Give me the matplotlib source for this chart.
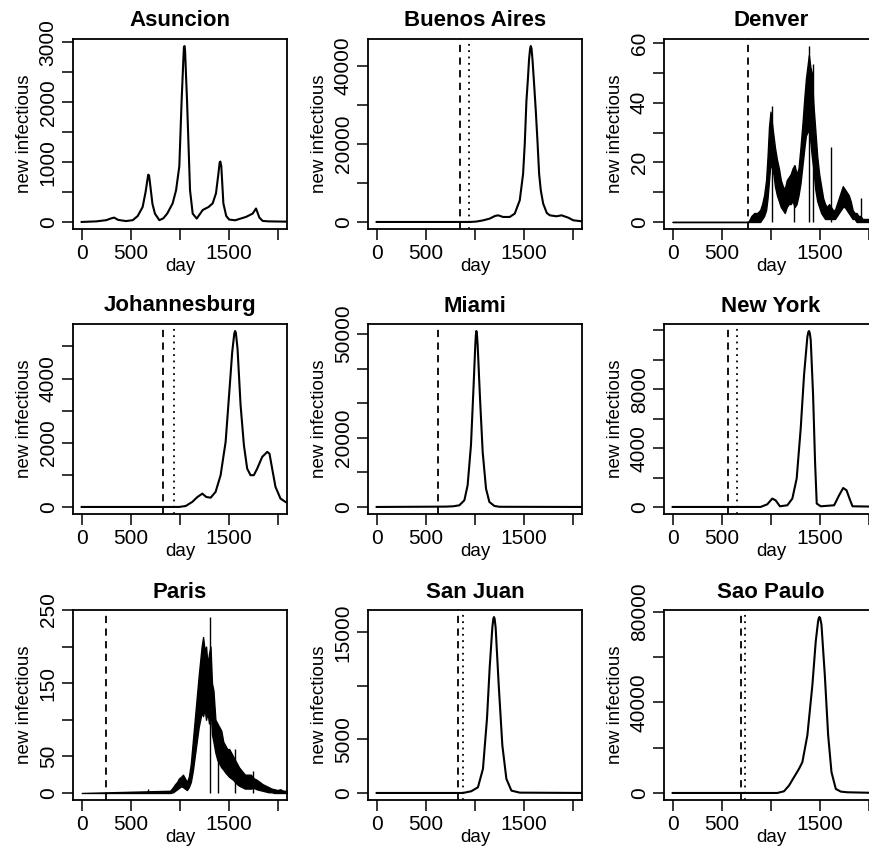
import numpy as np
import matplotlib
matplotlib.use('Agg')
import matplotlib.pyplot as plt

plt.rcParams['font.family'] = ['Liberation Sans', 'DejaVu Sans']

cities = ['Asuncion', 'Buenos Aires', 'Denver',
          'Johannesburg', 'Miami', 'New York',
          'Paris', 'San Juan', 'Sao Paulo']

# smooth epidemic curves (day, new infectious)
asu_day = [0, 150, 250, 300, 330, 370, 450, 520, 570, 620, 650, 670, 677, 685, 695, 720, 745, 790, 830, 870, 925,
           960, 993, 1017, 1035, 1040, 1046, 1052, 1060, 1071, 1102, 1129, 1170, 1231, 1290, 1332, 1366, 1390,
           1403, 1410, 1420, 1441, 1470, 1500, 1560, 1671, 1739, 1773, 1807, 1841, 1900, 2090]
asu_val = [0, 10, 30, 60, 73, 35, 15, 30, 100, 250, 500, 720, 790, 780, 650, 300, 140, 30, 60, 140, 310,
           530, 930, 2050, 2750, 2920, 2940, 2850, 2500, 2050, 530, 140, 56, 200, 250, 310, 480, 800,
           990, 1010, 930, 310, 100, 40, 28, 84, 140, 225, 73, 17, 10, 5]

ba_day = [0, 950, 1013, 1080, 1149, 1200, 1234, 1260, 1285, 1353, 1404, 1455, 1489, 1506, 1523, 1537, 1550,
          1560, 1567, 1575, 1584, 1601, 1618, 1635, 1652, 1669, 1693, 1730, 1761, 1829, 1880, 1948, 1999, 2090]
ba_val = [0, 0, 100, 400, 850, 1500, 1700, 1500, 1280, 1280, 2130, 5530, 12300, 20000, 31000, 36200, 41700,
          44200, 45000, 44300, 41700, 35300, 28500, 20800, 12300, 8100, 4700, 2300, 1700, 1450, 1700, 1100,
          430, 150]

jnb_day = [0, 990, 1058, 1126, 1177, 1227, 1268, 1312, 1362, 1413, 1464, 1504, 1531, 1552, 1560, 1568, 1585,
           1616, 1650, 1683, 1717, 1751, 1785, 1836, 1887, 1910, 1937, 1971, 2022, 2073, 2090]
jnb_val = [0, 0, 30, 160, 310, 415, 310, 290, 470, 990, 2030, 3690, 4830, 5400, 5480, 5430, 4930,
           3170, 1920, 1195, 990, 990, 1195, 1560, 1715, 1660, 1195, 625, 260, 155, 130]

mia_day = [0, 705, 780, 841, 892, 925, 959, 983, 1003, 1009, 1014, 1020, 1027, 1051, 1078, 1112, 1146,
           1197, 1250, 2090]
mia_val = [0, 100, 200, 480, 1930, 6270, 17850, 33300, 46800, 49800, 50850, 49800, 46800, 31400, 15900,
           5300, 1450, 290, 50, 0]

ny_day = [0, 894, 962, 1013, 1047, 1091, 1166, 1217, 1261, 1302, 1336, 1370, 1380, 1387, 1395, 1404, 1428,
          1448, 1465, 1506, 1642, 1693, 1734, 1768, 1805, 1829, 2090]
ny_val = [0, 0, 180, 570, 450, 45, 115, 570, 1930, 5330, 8970, 11580, 11900, 11960, 11800, 11350, 7600,
          3060, 230, 45, 115, 800, 1290, 1135, 450, 45, 20]

sj_day = [0, 877, 962, 1030, 1081, 1122, 1149, 1176, 1186, 1193, 1200, 1210, 1241, 1278, 1319, 1370,
          1455, 2090]
sj_val = [0, 0, 160, 530, 2260, 6960, 11660, 15420, 16250, 16430, 16250, 15420, 10100, 4450, 1320, 220,
          30, 0]

sp_day = [0, 1064, 1132, 1183, 1234, 1285, 1319, 1370, 1421, 1455, 1479, 1487, 1493, 1500, 1513, 1547,
          1581, 1615, 1659, 1710, 1778, 2090]
sp_val = [0, 0, 740, 3260, 6960, 10660, 13600, 25500, 47700, 66900, 75800, 77300, 77600, 77100, 74300,
          52100, 25500, 9180, 1780, 590, 300, 0]

# noisy series: low / high envelope of the daily counts, plus single-day spikes
den_day = [0, 770, 800, 830, 860, 890, 910, 930, 950, 965, 980, 995, 1010, 1025, 1040, 1060, 1080, 1100, 1120,
           1140, 1160, 1180, 1200, 1220, 1240, 1260, 1280, 1300, 1320, 1340, 1355, 1370, 1385, 1400, 1415,
           1430, 1450, 1470, 1490, 1510, 1530, 1550, 1570, 1590, 1610, 1630, 1650, 1670, 1690, 1710, 1730,
           1750, 1770, 1790, 1810, 1830, 1850, 1870, 1890, 1910, 1930, 1950, 1980, 2010, 2040, 2090]
den_lo = [0, 0, 0, 0, 0, 0, 1, 2, 4, 8, 14, 20, 18, 16, 12, 9, 7, 5, 4, 3, 5, 6, 6, 7, 5, 6, 9, 13, 19, 25, 29,
          30, 31, 27, 22, 18, 11, 7, 5, 3, 2, 1, 1, 1, 1, 1, 1, 2, 3, 4, 5, 5, 4, 3, 2, 1, 1, 0, 0, 0, 0, 0,
          0, 0, 0, 0]
den_hi = [0, 0, 2, 3, 3, 4, 6, 9, 14, 22, 32, 37, 33, 29, 25, 21, 18, 14, 12, 11, 14, 15, 16, 18, 19, 16, 18,
          25, 33, 42, 48, 52, 56, 52, 50, 40, 31, 22, 16, 12, 8, 6, 5, 6, 5, 4, 4, 6, 8, 10, 12, 11, 10, 9,
          7, 4, 3, 3, 2, 2, 1, 1, 1, 1, 0, 0]
den_spike_day = [1006, 1234, 1387, 1428, 1608, 1914]
den_spike_val = [39, 19, 59, 53, 25, 8]

par_day = [0, 900, 930, 950, 970, 990, 1010, 1030, 1050, 1070, 1090, 1110, 1130, 1150, 1170, 1190, 1205,
           1220, 1235, 1250, 1265, 1280, 1295, 1310, 1325, 1340, 1360, 1380, 1400, 1420, 1440, 1460, 1480,
           1500, 1520, 1540, 1560, 1580, 1600, 1630, 1660, 1690, 1720, 1750, 1780, 1810, 1840, 1870, 1900,
           1930, 1960, 1990, 2020, 2050, 2090]
par_lo = [0, 0, 1, 3, 5, 7, 9, 8, 6, 4, 8, 15, 30, 50, 70, 90, 100, 110, 105, 115, 100, 110, 95, 120, 80,
          70, 55, 45, 40, 35, 32, 28, 25, 22, 20, 18, 15, 12, 10, 8, 6, 6, 6, 7, 5, 4, 3, 2, 1, 1, 0, 0, 0,
          0, 0]
par_hi = [0, 3, 8, 12, 15, 20, 22, 25, 20, 15, 22, 40, 70, 100, 130, 160, 180, 200, 213, 195, 200, 175, 190,
          200, 150, 140, 100, 95, 90, 85, 70, 65, 60, 60, 55, 50, 45, 40, 35, 30, 25, 25, 25, 20, 18, 15, 12,
          10, 8, 6, 5, 4, 5, 3, 3]
par_spike_day = [671, 1305, 1383, 1563, 1740]
par_spike_val = [5, 240, 90, 60, 30]

# intervention days (dashed / dotted markers), None where absent
dash_day = [None, 849, 769, 824, 625, 558, 248, 832, 694]
dot_day = [None, 937, None, 943, None, 657, None, 883, 732]

# y tick values and which of them carry a label
y_ticks = [
    [0, 500, 1000, 1500, 2000, 2500, 3000],
    [0, 10000, 20000, 30000, 40000],
    [0, 10, 20, 30, 40, 50, 60],
    [0, 1000, 2000, 3000, 4000, 5000],
    [0, 10000, 20000, 30000, 40000, 50000],
    [0, 2000, 4000, 6000, 8000, 10000, 12000],
    [0, 50, 100, 150, 200, 250],
    [0, 5000, 10000, 15000],
    [0, 20000, 40000, 60000, 80000],
]
y_labels = [
    ['0', '', '1000', '', '2000', '', '3000'],
    ['0', '', '20000', '', '40000'],
    ['0', '', '20', '', '40', '', '60'],
    ['0', '', '2000', '', '4000', ''],
    ['0', '', '20000', '', '', '50000'],
    ['0', '', '4000', '', '8000', '', ''],
    ['0', '50', '', '150', '', '250'],
    ['0', '5000', '', '15000'],
    ['0', '', '40000', '', '80000'],
]
x_ticks = [0, 500, 1000, 1500, 2000]
x_labels = ['0', '500', '', '1500', '']

smooth = {0: (asu_day, asu_val), 1: (ba_day, ba_val), 3: (jnb_day, jnb_val), 4: (mia_day, mia_val),
          5: (ny_day, ny_val), 7: (sj_day, sj_val), 8: (sp_day, sp_val)}
noisy = {2: (den_day, den_lo, den_hi, den_spike_day, den_spike_val),
         6: (par_day, par_lo, par_hi, par_spike_day, par_spike_val)}

fig = plt.figure(figsize=(8.7, 8.5), dpi=100)
W, H = 870.0, 850.0
col_left = [73, 368, 664]
row_bottom = [229, 514, 800]
box_w, box_h = 214, 190

for i, city in enumerate(cities):
    r, c = divmod(i, 3)
    ax = fig.add_axes([col_left[c] / W, 1 - row_bottom[r] / H, box_w / W, box_h / H])

    if i in smooth:
        d, v = smooth[i]
        ax.plot(d, v, color='black', lw=1.5)
        top = max(v)
    else:
        d, lo, hi, sd, sv = noisy[i]
        ax.fill_between(d, lo, hi, color='black', lw=1.0, edgecolor='black')
        ax.vlines(sd, 0, sv, color='black', lw=1.0)
        top = max(max(hi), max(sv))

    if dash_day[i] is not None:
        ax.axvline(dash_day[i], color='black', lw=1.3, linestyle=(0, (4, 3)))
    if dot_day[i] is not None:
        ax.axvline(dot_day[i], color='black', lw=1.3, linestyle=(0, (1, 2.5)))

    ax.set_xlim(-88, 2088)
    ax.set_ylim(-0.04 * top, 1.04 * top)
    ax.set_xticks(x_ticks)
    ax.set_xticklabels(x_labels, fontsize=15)
    ax.set_yticks(y_ticks[i])
    ax.set_yticklabels(y_labels[i], fontsize=15, rotation=90, va='center')
    ax.tick_params(direction='out', length=8, width=1.1, pad=3)
    for s in ax.spines.values():
        s.set_linewidth(1.3)

    ax.set_title(city, fontsize=16, fontweight='bold', pad=9)
    ax.set_xlabel('day', fontsize=13.5, labelpad=-4)
    ax.set_ylabel('new infectious', fontsize=13.5, labelpad=4)

fig.savefig('out.png', dpi=100)
